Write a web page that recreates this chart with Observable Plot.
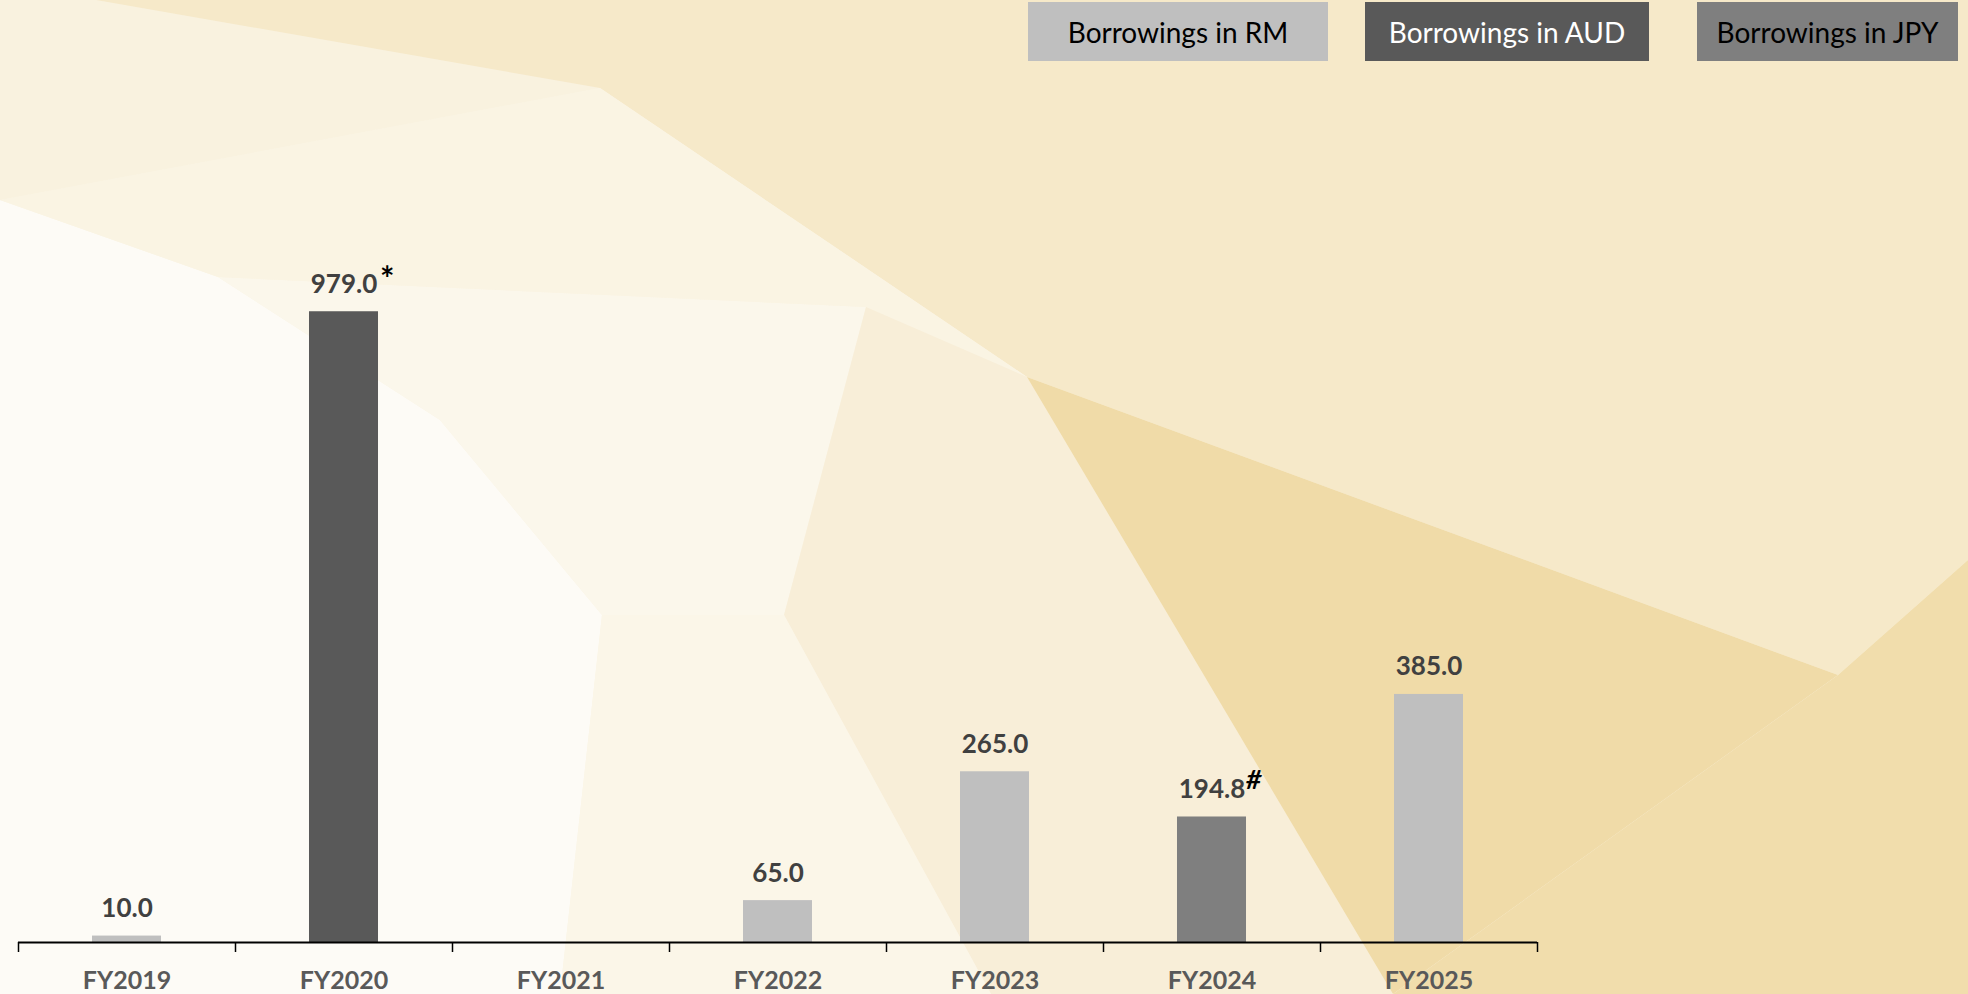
<!DOCTYPE html>
<html><head><meta charset="utf-8">
<script src="https://cdn.jsdelivr.net/npm/d3@7"></script>
<script src="https://cdn.jsdelivr.net/npm/@observablehq/plot@0.6"></script>
<style>
html,body{margin:0;padding:0;width:1968px;height:994px;overflow:hidden;background:#faf4e4;font-family:Lato,sans-serif}
#bg{position:absolute;left:0;top:0}
#chart{position:absolute;left:0;top:0}
#legend{position:absolute;left:0;top:0;width:1968px;height:70px}
.key{position:absolute;top:2px;height:59px;display:flex;align-items:center;justify-content:center;font-size:28px;font-family:Lato,sans-serif}
</style></head><body>
<svg id="bg" width="1968" height="994" xmlns="http://www.w3.org/2000/svg">
  <rect width="1968" height="994" fill="#faf4e4"/>
  <polygon points="0,0 96,0 600,88 0,200" fill="#f9f2df"/>
  <polygon points="96,0 1968,0 1968,560 1838,675 1027,377 600,88" fill="#f6e9c9"/>
  <polygon points="0,200 218,277 440,420 602,615 560,994 0,994" fill="#fdfbf6"/>
  <polygon points="218,277 866,307 784,615 602,615 440,420" fill="#fbf7eb"/>
  <polygon points="600,88 1027,377 866,307 218,277 0,200" fill="#faf4e3"/>
  <polygon points="866,307 1027,377 1393,994 991,994 784,615" fill="#f8eed8"/>
  <polygon points="602,615 784,615 991,994 560,994" fill="#fbf6e8"/>
  <polygon points="1027,377 1838,675 1393,994" fill="#f0dba8"/>
  <polygon points="1838,675 1968,560 1968,994 1393,994" fill="#f1ddac"/>
</svg>
<div id="chart"></div>
<div id="legend"></div>
<script>
const years = ["FY2019", "FY2020", "FY2021", "FY2022", "FY2023", "FY2024", "FY2025"];
const values = [10.0, 979.0, null, 65.0, 265.0, 194.8, 385.0];
const currencies = ["RM", "AUD", null, "RM", "RM", "JPY", "RM"];
const notes = ["", "*", "", "", "", "#", ""];
const seriesKeys = ["RM", "AUD", "JPY"];
const seriesNames = ["Borrowings in RM", "Borrowings in AUD", "Borrowings in JPY"];
const seriesColors = ["#bfbfbf", "#595959", "#7f7f7f"];
const legendTextColors = ["#000000", "#ffffff", "#000000"];

// legend layout (px)
const legendLayout = [{left: 1028, width: 300}, {left: 1365, width: 284}, {left: 1697, width: 261}];

const rows = years.map((year, i) => ({year, i, value: values[i], cur: currencies[i], note: notes[i]}))
  .filter(d => d.value != null);

const half = 0.159;
const chart = Plot.plot({
  width: 1968, height: 994,
  marginLeft: 18, marginRight: 431, marginTop: 40, marginBottom: 52,
  style: {background: "transparent", fontFamily: "Lato, sans-serif", overflow: "visible"},
  x: {domain: [0, years.length], axis: null},
  y: {domain: [0, 1400], axis: null},
  color: {domain: seriesKeys, range: seriesColors},
  marks: [
    Plot.rectY(rows, {x1: d => d.i + 0.5 - half, x2: d => d.i + 0.5 + half, y1: 0, y2: "value", fill: "cur"}),
    Plot.ruleY([0], {stroke: "#000", strokeWidth: 2}),
    Plot.axisX({ticks: d3.range(years.length + 1), tickSize: 10, tickFormat: () => "", stroke: "#000", strokeWidth: 1.5, strokeOpacity: 1}),
    Plot.axisX({ticks: d3.range(years.length).map(i => i + 0.5), tickSize: 0, tickPadding: 29,
      tickFormat: t => years[Math.floor(t)], fontSize: 25, fontWeight: "bold", fill: "#595959"}),
    Plot.text(rows, {x: d => d.i + 0.5, y: "value", text: d => d.value.toFixed(1), dy: -19, lineAnchor: "bottom",
      fontSize: 26, fontWeight: "bold", fill: "#404040"}),
    Plot.text(rows.filter(d => d.note === "*"), {x: d => d.i + 0.5, y: "value", text: "note", textAnchor: "start",
      dx: 36, dy: -21, lineAnchor: "bottom", fontSize: 34, fontWeight: "bold", fill: "#000"}),
    Plot.text(rows.filter(d => d.note === "#"), {x: d => d.i + 0.5, y: "value", text: "note", textAnchor: "start",
      dx: 34, dy: -28, lineAnchor: "bottom", fontSize: 27, fontWeight: "bold", fontStyle: "italic", fill: "#000"})
  ]
});
document.getElementById("chart").appendChild(chart);

const legend = document.getElementById("legend");
seriesNames.forEach((name, k) => {
  const el = document.createElement("div");
  el.className = "key";
  el.style.left = legendLayout[k].left + "px";
  el.style.width = legendLayout[k].width + "px";
  el.style.background = seriesColors[k];
  el.style.color = legendTextColors[k];
  el.textContent = name;
  legend.appendChild(el);
});
</script>
</body></html>
